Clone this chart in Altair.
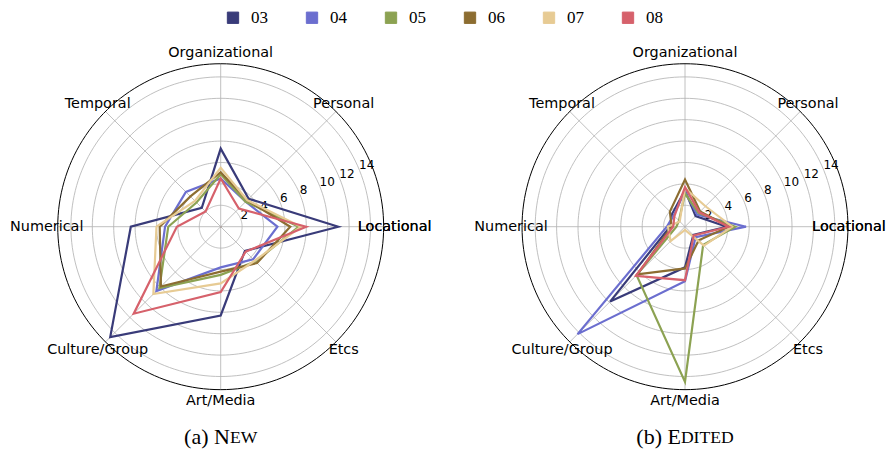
import altair as alt
import pandas as pd

categories = ["Locational", "Personal", "Organizational", "Temporal",
              "Numerical", "Culture/Group", "Art/Media", "Etcs"]
series = ["03", "04", "05", "06", "07", "08"]
colors = ["#393b79", "#6b6ecf", "#8ca252", "#8c6d31", "#e7cb94", "#d6616b"]
r_ticks = [2, 4, 6, 8, 10, 12, 14]
r_max = 15.23

# (a) NEW
new_03 = [11.0, 3.7, 7.3, 2.5, 8.4, 14.6, 8.3, 3.2]
new_04 = [5.3, 3.3, 4.5, 4.6, 5.2, 8.5, 3.8, 4.3]
new_05 = [7.3, 3.3, 4.9, 3.2, 4.9, 8.1, 4.5, 4.6]
new_06 = [6.5, 3.5, 5.1, 4.0, 5.7, 7.9, 4.2, 4.8]
new_07 = [7.5, 3.5, 5.5, 3.4, 6.0, 8.9, 5.3, 4.5]
new_08 = [8.0, 2.4, 4.5, 2.0, 4.1, 11.5, 6.1, 3.3]

# (b) EDITED
edited_03 = [3.9, 1.4, 3.4, 1.7, 1.4, 9.9, 3.8, 1.1]
edited_04 = [5.7, 1.6, 3.3, 1.5, 1.7, 14.2, 5.1, 1.4]
edited_05 = [4.7, 1.8, 3.1, 0.8, 0.8, 6.4, 14.5, 2.4]
edited_06 = [4.1, 2.0, 4.4, 2.0, 1.25, 6.3, 3.9, 1.8]
edited_07 = [4.4, 2.7, 3.6, 0.7, 1.6, 1.9, 0.3, 2.5]
edited_08 = [4.1, 1.9, 3.7, 1.4, 1.1, 6.5, 5.0, 1.15]

panel_keys = ["a", "b"]
panel_main = ["(a) N", "(b) E"]
panel_small = ["EW", "DITED"]

new_vals = [new_03, new_04, new_05, new_06, new_07, new_08]
edited_vals = [edited_03, edited_04, edited_05, edited_06, edited_07, edited_08]

# ---- layout (pixels) ----
PAD_TOP = 8
W, H = 880, 434
K = 10.7                      # px per unit
cx_a = 220.7 - 8              # centre of panel a in plot pixels
cy = 226.7 - 8 - PAD_TOP
cx_b = 685.0 - 8
OFF_B = (cx_b - cx_a) / K
x_dom = [-cx_a / K, (W - cx_a) / K]
y_dom = [-(H - cy) / K, cy / K]
xs = alt.Scale(domain=x_dom, range=[0, W], nice=False, zero=False)
ys = alt.Scale(domain=y_dom, range=[H, 0], nice=False, zero=False)

OFF = f"(datum.panel == 'b' ? {OFF_B} : 0)"

rows = []
for p, vals in zip(panel_keys, [new_vals, edited_vals]):
    for s, v in zip(series, vals):
        for i, (c, r) in enumerate(zip(categories, v)):
            rows.append({"panel": p, "series": s, "cat": c, "idx": i, "r": r})
df = pd.DataFrame(rows)

grid_df = pd.DataFrame([{"panel": p, "t": t} for p in panel_keys for t in r_ticks])
outer_df = pd.DataFrame([{"panel": p, "t": r_max} for p in panel_keys])
cat_df = pd.DataFrame([{"panel": p, "cat": c, "idx": i}
                       for p in panel_keys for i, c in enumerate(categories)])
# the first angle is labelled a second time at 360 degrees
lab_df = pd.DataFrame([{"panel": p, "cat": c, "idx": i}
                       for p in panel_keys
                       for i, c in enumerate(categories + categories[:1])])
title_df = pd.DataFrame({"panel": panel_keys, "main": panel_main, "small": panel_small})

X = lambda f: alt.X(f, type="quantitative", scale=xs, axis=None)
Y = lambda f: alt.Y(f, type="quantitative", scale=ys, axis=None)


def circle_layer(data, color, width):
    return (alt.Chart(data)
            .transform_calculate(a="sequence(0, 362, 2)")
            .transform_flatten(["a"])
            .transform_calculate(
                key="datum.panel + '_' + datum.t",
                x=f"datum.t * cos(datum.a * PI / 180) + {OFF}",
                y="datum.t * sin(datum.a * PI / 180)")
            .mark_line(stroke=color, strokeWidth=width)
            .encode(x=X("x"), y=Y("y"), detail="key:N",
                    order=alt.Order("a:Q")))


grid = circle_layer(grid_df, "#b0b0b0", 0.8)
outer = circle_layer(outer_df, "#000000", 1.0)

spokes = (alt.Chart(cat_df)
          .transform_calculate(
              x0=f"{OFF}", y0="0",
              x1=f"{r_max} * cos(datum.idx * PI / 4) + {OFF}",
              y1=f"{r_max} * sin(datum.idx * PI / 4)")
          .mark_rule(stroke="#b0b0b0", strokeWidth=0.8)
          .encode(x=X("x0"), y=Y("y0"), x2="x1", y2="y1"))

# the right panel's "Locational" is nudged inward so it stays inside the page
EDGE_NUDGE = -10.0 / K
cat_labels = (alt.Chart(lab_df)
              .transform_calculate(
                  x=f"({r_max} + {11.0 / K}) * cos(datum.idx * PI / 4) + {OFF}"
                    f" + ((datum.panel == 'b' && datum.idx % 8 == 0) ? {EDGE_NUDGE} : 0)",
                  y=f"({r_max} + {11.0 / K}) * sin(datum.idx * PI / 4)")
              .mark_text(font="DejaVu Sans", fontSize=14.4, color="black",
                         align="center", baseline="middle")
              .encode(x=X("x"), y=Y("y"), text="cat:N"))

tick_labels = (alt.Chart(grid_df)
               .transform_calculate(
                   x=f"datum.t * cos(PI / 8) + {OFF}",
                   y="datum.t * sin(PI / 8)")
               .mark_text(font="DejaVu Sans", fontSize=12, color="black",
                          align="left", baseline="alphabetic")
               .encode(x=X("x"), y=Y("y"), text="t:Q"))

lines = (alt.Chart(df)
         .transform_calculate(
             x=f"datum.r * cos(datum.idx * PI / 4) + {OFF}",
             y="datum.r * sin(datum.idx * PI / 4)")
         .mark_line(strokeWidth=2.2, interpolate="linear-closed")
         .encode(x=X("x"), y=Y("y"),
                 stroke=alt.Stroke("series:N", scale=alt.Scale(domain=series, range=colors),
                                   legend=None),
                 detail="panel:N",
                 order=alt.Order("idx:Q")))

legend_marks = (alt.Chart(pd.DataFrame({"series": series}))
                .transform_calculate(x="0", y="0")
                .mark_square(size=2, opacity=1, filled=True)
                .encode(x=X("x"), y=Y("y"),
                        color=alt.Color("series:N",
                                        scale=alt.Scale(domain=series, range=colors),
                                        legend=alt.Legend(
                                            title=None, orient="none", direction="horizontal",
                                            legendX=224.5 - 8, legendY=-PAD_TOP + 1,
                                            symbolType="square", symbolSize=128,
                                            symbolStrokeColor="black", symbolStrokeWidth=1,
                                            symbolOpacity=1,
                                            labelFont="Liberation Serif", labelFontSize=17,
                                            labelColor="black", labelOffset=9.5,
                                            columnPadding=35, padding=0))))

FS = 22
ty = (cy - (437 - 8 - PAD_TOP)) / K
split = f"(datum.panel == 'b' ? {-0.1865 * FS / K} : {0.419 * FS / K})"
title_main = (alt.Chart(title_df)
              .transform_calculate(x=f"{OFF} + {split}", y=f"{ty}")
              .mark_text(font="Liberation Serif", fontSize=FS, color="black",
                         align="right", baseline="middle")
              .encode(x=X("x"), y=Y("y"), text="main:N"))
title_small = (alt.Chart(title_df)
               .transform_calculate(x=f"{OFF} + {split}", y=f"{ty}")
               .mark_text(font="Liberation Serif", fontSize=FS * 0.8, color="black",
                          align="left", baseline="middle", dy=0.8)
               .encode(x=X("x"), y=Y("y"), text="small:N"))

chart = (alt.layer(legend_marks, grid, spokes, outer, tick_labels, cat_labels, lines,
                   title_main, title_small)
         .properties(width=W, height=H,
                     padding={"left": 0, "top": PAD_TOP, "right": 0, "bottom": 0},
                     autosize=alt.AutoSizeParams(type="none"))
         .configure_view(stroke=None))

chart.save("out.html", embed_options={"renderer": "svg", "actions": False})
